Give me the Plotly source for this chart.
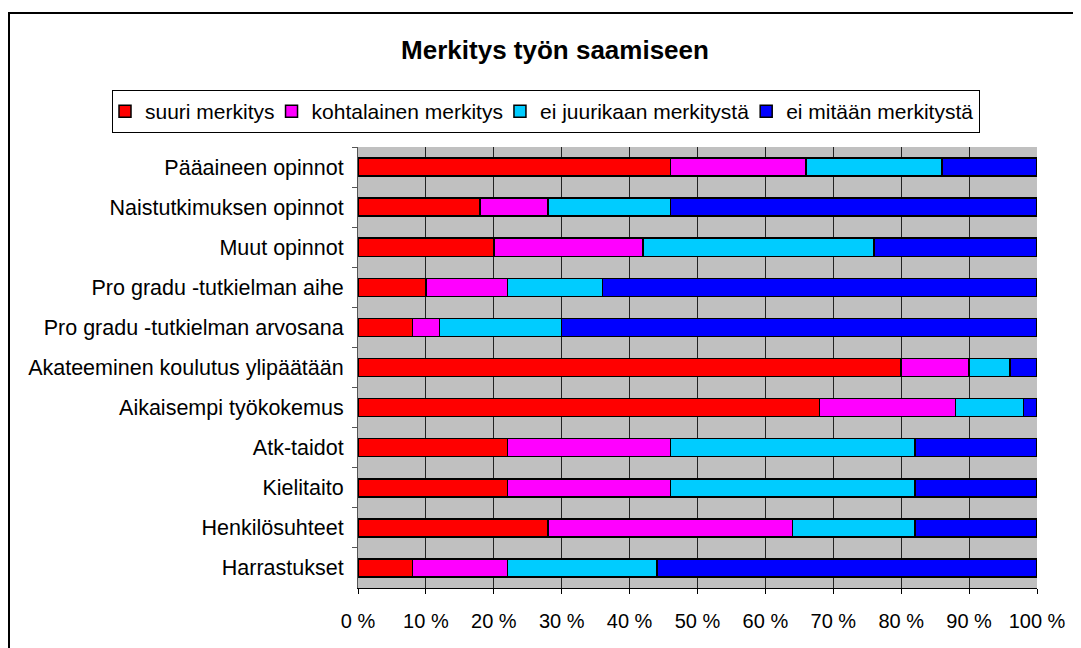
import plotly.graph_objects as go

categories = ["Pääaineen opinnot", "Naistutkimuksen opinnot", "Muut opinnot",
              "Pro gradu -tutkielman aihe", "Pro gradu -tutkielman arvosana",
              "Akateeminen koulutus ylipäätään", "Aikaisempi työkokemus",
              "Atk-taidot", "Kielitaito", "Henkilösuhteet", "Harrastukset"]
suuri = [46, 18, 20, 10, 8, 80, 68, 22, 22, 28, 8]
kohtalainen = [20, 10, 22, 12, 4, 10, 20, 24, 24, 36, 14]
ei_juurikaan = [20, 18, 34, 14, 18, 6, 10, 36, 36, 18, 22]
ei_mitaan = [14, 54, 24, 64, 70, 4, 2, 18, 18, 18, 56]
series_names = ["suuri merkitys", "kohtalainen merkitys",
                "ei juurikaan merkitystä", "ei mitään merkitystä"]
colors = ["#FF0000", "#FF00FF", "#00CCFF", "#0000FF"]
x_ticks = [0, 10, 20, 30, 40, 50, 60, 70, 80, 90, 100]

fig = go.Figure()
for name, vals, col in zip(series_names, [suuri, kohtalainen, ei_juurikaan, ei_mitaan], colors):
    fig.add_trace(go.Bar(
        y=categories, x=vals, name=name, orientation="h",
        marker=dict(color=col, line=dict(color="black", width=1.5)),
        width=0.45,
    ))

# page has an 8px body margin, so figure coords = screen coords - 8
OFF = 8
W, H = 1081, 648
L, R, T, B = 358 - OFF, W - (1037 - OFF), 147 - OFF, H - (588 - OFF)
pw, ph = W - L - R, H - T - B

def px(x):
    return (x - OFF - L) / pw

def py(y):
    return (H - B - (y - OFF)) / ph

fig.update_layout(
    barmode="stack",
    width=W, height=H,
    margin=dict(l=L, r=R, t=T, b=B, pad=0, autoexpand=False),
    paper_bgcolor="white",
    plot_bgcolor="#C0C0C0",
    font=dict(family="Liberation Sans, Arial, sans-serif", size=21.5, color="black"),
    title=dict(text="<b>Merkitys työn saamiseen</b>", x=(555 - OFF) / W, xanchor="center",
               y=1 - (50 - OFF) / H, yanchor="middle", yref="container",
               font=dict(size=26, color="black")),
    legend=dict(orientation="h", x=px(112), xanchor="left",
                y=py(90), yanchor="top",
                bordercolor="black", borderwidth=1, bgcolor="white",
                font=dict(size=21), traceorder="normal", itemwidth=30,
                indentation=-8, tracegroupgap=0),
    xaxis=dict(range=[0, 100], tickvals=x_ticks, ticktext=[f"{v} %" for v in x_ticks],
               showgrid=True, gridcolor="#222222", gridwidth=1,
               ticks="outside", ticklen=5, tickcolor="black",
               showline=True, linecolor="black", linewidth=1,
               zeroline=False, ticklabelstandoff=10, tickfont=dict(size=20)),
    yaxis=dict(categoryorder="array", categoryarray=categories, autorange="reversed",
               tickson="boundaries", ticks="outside", ticklen=5, tickcolor="#555555",
               showline=True, linecolor="#555555", linewidth=1,
               showgrid=False, ticklabelstandoff=9),
    shapes=[dict(type="rect", xref="paper", yref="paper",
                 x0=px(9), x1=px(1120), y0=py(13), y1=py(700),
                 line=dict(color="black", width=2), fillcolor="rgba(0,0,0,0)",
                 layer="below")],
)

fig.write_html("out.html")
